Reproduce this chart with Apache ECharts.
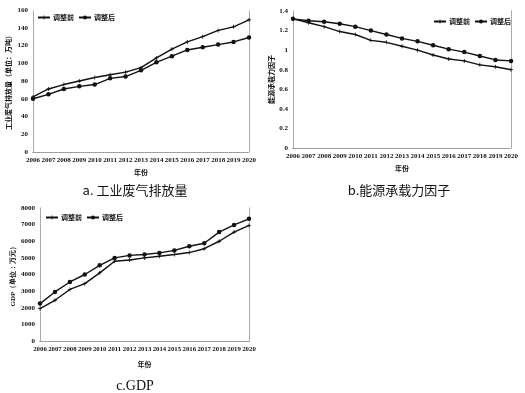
<!DOCTYPE html>
<html><head><meta charset="utf-8">
<script src="https://cdn.jsdelivr.net/npm/echarts@6/dist/echarts.min.js"></script>
<style>html,body{margin:0;padding:0;background:#fff}#c{width:525px;height:393px}</style>
</head><body><div id="c"></div>
<script>
const years = ['2006','2007','2008','2009','2010','2011','2012','2013','2014','2015','2016','2017','2018','2019','2020'];
const seriesNames = ['调整前','调整后'];
const gasBefore = [62,71,76,80,84,87,90,95,106,116,124,130,137,141,149];
const gasAfter  = [60,65,71,74,76,83,85,92,101,108,115,118,121,124,129];
const energyBefore = [1.32,1.28,1.24,1.19,1.16,1.10,1.08,1.04,1.00,0.95,0.91,0.89,0.85,0.83,0.80];
const energyAfter  = [1.32,1.30,1.29,1.27,1.24,1.20,1.16,1.12,1.09,1.05,1.01,0.98,0.94,0.90,0.89];
const gdpBefore = [1950,2450,3100,3450,4100,4800,4870,5000,5100,5200,5320,5550,6000,6550,6950];
const gdpAfter  = [2250,2950,3550,4000,4550,5000,5150,5200,5300,5450,5700,5880,6550,6980,7350];
const yNames = ['工业废气排放量（单位：万吨）','能源承载力因子','GDP（单位：万元）'];
const captions = ['a. 工业废气排放量','b.能源承载力因子','c.GDP'];

const serif = '"Liberation Serif","DejaVu Serif",serif';
const cjk = '"Noto Sans CJK SC",sans-serif';
const plus = 'path://M4,0H6V4H10V6H6V10H4V6H0V4H4Z';
const dotted = {show:true, lineStyle:{color:'#999', type:'dotted', width:1}};

const grids = [
  {left:33, top:10, width:216, height:142},
  {left:293, top:11, width:218, height:137},
  {left:40, top:208, width:209, height:133}
];
const yCfg = [
  {min:0, max:160, interval:20},
  {min:0, max:1.4, interval:0.2},
  {min:0, max:8000, interval:1000}
];
const data = [[gasBefore,gasAfter],[energyBefore,energyAfter],[gdpBefore,gdpAfter]];

const xAxis = [], yAxis = [], series = [];
grids.forEach((g,i)=>{
  xAxis.push({gridIndex:i, type:'category', data:years, boundaryGap:false, position:'bottom',
    name:'年份', nameLocation:'middle', nameGap:i===2?20:17,
    nameTextStyle:{fontFamily:cjk, fontWeight:'bold', fontSize:7, color:'#111'},
    axisLine:dotted, axisTick:{show:false},
    axisLabel:{interval:0, fontFamily:serif, fontWeight:'bold', fontSize:i===2?6.8:7, color:'#111', margin:5},
    splitLine:{show:false}});
  xAxis.push({gridIndex:i, type:'category', data:years, boundaryGap:false, position:'top',
    axisLine:dotted, axisTick:{show:false}, axisLabel:{show:false}, splitLine:{show:false}});
  yAxis.push(Object.assign({gridIndex:i, type:'value', position:'left',
    name:yNames[i], nameLocation:'middle', nameGap:i===2?22:(i===1?18:21), nameRotate:90,
    nameTextStyle:{fontFamily:i===2?serif:cjk, fontWeight:'bold', fontSize:7, color:'#111'},
    axisLine:dotted, axisTick:{show:false},
    axisLabel:{fontFamily:serif, fontWeight:'bold', fontSize:7, color:'#111', margin:5,
      formatter:(v)=>String(v)},
    splitLine:{show:false}}, yCfg[i]));
  yAxis.push(Object.assign({gridIndex:i, type:'value', position:'right',
    axisLine:dotted, axisTick:{show:false}, axisLabel:{show:false}, splitLine:{show:false}}, yCfg[i]));
  series.push({name:seriesNames[0], type:'line', xAxisIndex:i*2, yAxisIndex:i*2, data:data[i][0],
    symbol:plus, symbolSize:4, showSymbol:true, lineStyle:{color:'#111', width:1.4}, itemStyle:{color:'#111'}, animation:false});
  series.push({name:seriesNames[1], type:'line', xAxisIndex:i*2, yAxisIndex:i*2, data:data[i][1],
    symbol:'circle', symbolSize:4.5, showSymbol:true, lineStyle:{color:'#111', width:1.4}, itemStyle:{color:'#111'}, animation:false});
});

const legendBase = {data:seriesNames, orient:'horizontal', itemWidth:12, itemHeight:5, itemGap:4, selectedMode:false, padding:0,
  textStyle:{fontFamily:cjk, fontWeight:'bold', fontSize:7, color:'#111', padding:[0,0,0,-2]}};
const legend = [
  Object.assign({left:37, top:14}, legendBase),
  Object.assign({right:14, top:18}, legendBase),
  Object.assign({left:45, top:214}, legendBase)
];

const title = [
  {text:captions[0], left:130, top:179, textAlign:'center', textStyle:{fontFamily:cjk, fontWeight:'normal', fontSize:13, color:'#111'}},
  {text:captions[1], left:394, top:179, textAlign:'center', textStyle:{fontFamily:cjk, fontWeight:'normal', fontSize:13, color:'#111'}},
  {text:captions[2], left:130, top:374, textAlign:'center', textStyle:{fontFamily:serif, fontWeight:'normal', fontSize:14, color:'#111'}}
];

const chart = echarts.init(document.getElementById('c'), null, {renderer:'canvas'});
chart.setOption({animation:false, backgroundColor:'#fff', title, legend, grid:grids, xAxis, yAxis, series});
</script></body></html>
